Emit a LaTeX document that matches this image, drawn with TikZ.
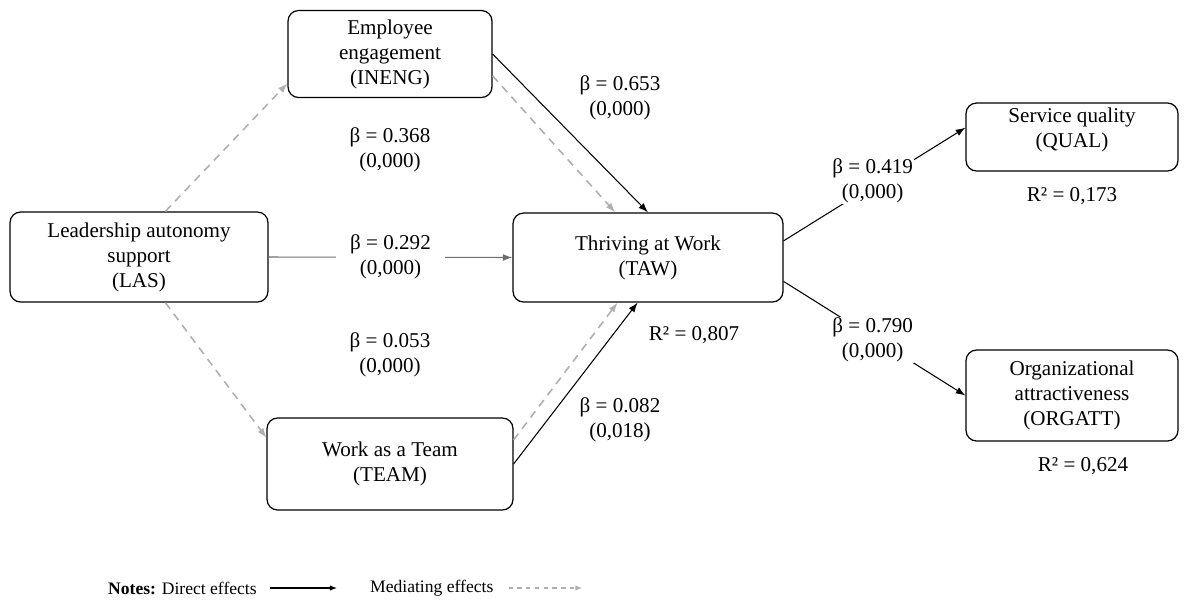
\documentclass[tikz,border=0pt]{standalone}
\usepackage{fontspec}
\setmainfont{Liberation Serif}
\usetikzlibrary{arrows.meta,positioning}
\definecolor{medgray}{RGB}{175,175,175}
\definecolor{lasgray}{RGB}{110,110,110}

\begin{document}
\begin{tikzpicture}
[x=0.02cm,y=-0.02cm,>={Latex[length=5.5pt,width=4pt]},
font=\fontsize{12}{14.2}\selectfont,
box/.style={draw, rounded corners=6pt, line width=0.7pt, align=center, inner sep=2pt},
direct/.style={->, line width=0.6pt},
mediate/.style={->, draw=medgray, line width=0.9pt, dash pattern=on 4.5pt off 3.5pt},
coef/.style={align=center, inner sep=0.5pt},
notes/.style={font=\fontsize{10}{12}\selectfont}]
\useasboundingbox (0,0) rectangle (1186,609);

\node[box, minimum width=5.16cm, minimum height=1.8cm] (las) at (139,257) {Leadership autonomy\\support\\(LAS)};
\node[box, minimum width=4.08cm, minimum height=1.74cm] (ineng) at (390,54) {Employee\\engagement\\(INENG)};
\node[box, minimum width=4.92cm, minimum height=1.84cm] (team) at (390,464) {Work as a Team\\(TEAM)};
\node[box, minimum width=5.4cm, minimum height=1.78cm] (taw) at (648,257.5) {Thriving at Work\\(TAW)};
\node[box, minimum width=4.24cm, minimum height=1.36cm] (qual) at (1072,137) {Service quality\\(QUAL)\\[-8pt]\strut};
\node[box, minimum width=4.24cm, minimum height=1.82cm] (orgatt) at (1072,395.5) {Organizational\\attractiveness\\(ORGATT)};

% mediating paths
\draw[mediate] (las.60) -- (ineng.196);
\draw[mediate] (las.-60) -- (team.168);
\draw[mediate] (ineng.-12) -- (taw.126);
\draw[mediate] (team.11) -- (taw.-124);

% direct paths
\draw[direct] (ineng.east) -- (taw.north);
\draw[direct] (team.east) -- (taw.-103);
\draw[direct, draw=lasgray] (las.east) -- node[coef, fill=white, inner xsep=8pt] (b292) {β = 0.292\\(0,000)} (taw.west);
\draw[direct] (taw.7) -- node[coef, fill=white, pos=0.49, yshift=2.5pt] (b419) {β = 0.419\\(0,000)} (qual.175);
\draw[direct] (taw.-10) -- node[coef, fill=white, pos=0.49, yshift=-1.5pt] (b790) {β = 0.790\\(0,000)} (orgatt.west);

\node[coef] (b653) at (620,98) {β = 0.653\\(0,000)};
\node[coef] (b368) at (390,150) {β = 0.368\\(0,000)};
\node[coef] (b053) at (390,355) {β = 0.053\\(0,000)};
\node[coef] (b082) at (620,420) {β = 0.082\\(0,018)};

\node (r2taw) at (694,335) {R² = 0,807};
\node[below=0.2cm of qual] (r2qual) {R² = 0,173};
\node[below=0.2cm of orgatt, xshift=0.22cm] (r2orgatt) {R² = 0,624};

% legend
\node[notes, anchor=west] (directtext) at (102,588) {\textbf{Notes:} Direct effects};
\node[notes, anchor=west] (mediatetext) at (364,588) {Mediating effects};
\draw[direct, >={Latex[length=4pt,width=3pt]}] ([xshift=0.14cm]directtext.east) -- ([xshift=-0.54cm]mediatetext.west);
\draw[mediate, line width=0.7pt, dash pattern=on 2.5pt off 2.5pt, >={Latex[length=4pt,width=3pt]}] ([xshift=0.18cm]mediatetext.east) -- ([xshift=1.66cm]mediatetext.east);
\end{tikzpicture}
\end{document}
